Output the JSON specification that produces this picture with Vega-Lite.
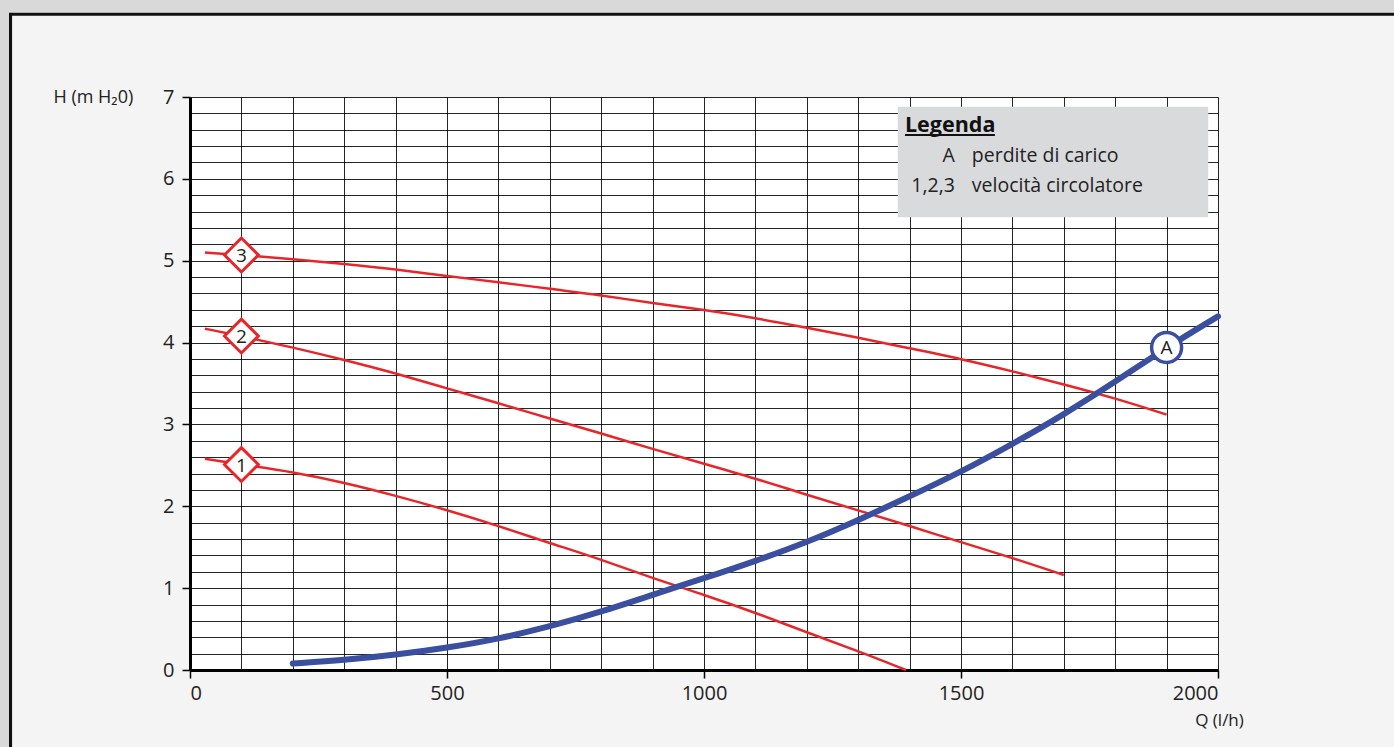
{
  "$schema": "https://vega.github.io/schema/vega-lite/v6.json",
  "width": 1028,
  "height": 573,
  "autosize": {"type": "none"},
  "padding": {"left": 190, "top": 97, "right": 176, "bottom": 77},
  "background": "#f3f4f3",
  "config": {"view": {"fill": "white", "stroke": null}, "font": "Open Sans"},
  "datasets": {
    "pump": [
      {"curve": "3", "Q": 29, "H": 5.10}, {"curve": "3", "Q": 100, "H": 5.07}, {"curve": "3", "Q": 200, "H": 5.02},
      {"curve": "3", "Q": 300, "H": 4.96}, {"curve": "3", "Q": 400, "H": 4.895}, {"curve": "3", "Q": 500, "H": 4.81},
      {"curve": "3", "Q": 600, "H": 4.74}, {"curve": "3", "Q": 700, "H": 4.655}, {"curve": "3", "Q": 800, "H": 4.58},
      {"curve": "3", "Q": 900, "H": 4.48}, {"curve": "3", "Q": 1000, "H": 4.40}, {"curve": "3", "Q": 1100, "H": 4.30},
      {"curve": "3", "Q": 1200, "H": 4.18}, {"curve": "3", "Q": 1300, "H": 4.06}, {"curve": "3", "Q": 1400, "H": 3.93},
      {"curve": "3", "Q": 1500, "H": 3.80}, {"curve": "3", "Q": 1600, "H": 3.65}, {"curve": "3", "Q": 1700, "H": 3.49},
      {"curve": "3", "Q": 1800, "H": 3.32}, {"curve": "3", "Q": 1900, "H": 3.12},
      {"curve": "2", "Q": 29, "H": 4.17}, {"curve": "2", "Q": 100, "H": 4.08}, {"curve": "2", "Q": 200, "H": 3.94},
      {"curve": "2", "Q": 300, "H": 3.79}, {"curve": "2", "Q": 400, "H": 3.625}, {"curve": "2", "Q": 500, "H": 3.44},
      {"curve": "2", "Q": 600, "H": 3.26}, {"curve": "2", "Q": 700, "H": 3.07}, {"curve": "2", "Q": 800, "H": 2.89},
      {"curve": "2", "Q": 900, "H": 2.70}, {"curve": "2", "Q": 1000, "H": 2.52}, {"curve": "2", "Q": 1100, "H": 2.34},
      {"curve": "2", "Q": 1200, "H": 2.14}, {"curve": "2", "Q": 1300, "H": 1.95}, {"curve": "2", "Q": 1400, "H": 1.76},
      {"curve": "2", "Q": 1500, "H": 1.56}, {"curve": "2", "Q": 1600, "H": 1.37}, {"curve": "2", "Q": 1700, "H": 1.16},
      {"curve": "1", "Q": 29, "H": 2.58}, {"curve": "1", "Q": 100, "H": 2.51}, {"curve": "1", "Q": 200, "H": 2.42},
      {"curve": "1", "Q": 300, "H": 2.29}, {"curve": "1", "Q": 400, "H": 2.13}, {"curve": "1", "Q": 500, "H": 1.955},
      {"curve": "1", "Q": 600, "H": 1.76}, {"curve": "1", "Q": 700, "H": 1.55}, {"curve": "1", "Q": 800, "H": 1.35},
      {"curve": "1", "Q": 900, "H": 1.12}, {"curve": "1", "Q": 1000, "H": 0.92}, {"curve": "1", "Q": 1100, "H": 0.70},
      {"curve": "1", "Q": 1200, "H": 0.46}, {"curve": "1", "Q": 1300, "H": 0.23}, {"curve": "1", "Q": 1393, "H": 0.0}
    ],
    "loss": [
      {"Q": 200, "H": 0.08}, {"Q": 300, "H": 0.12}, {"Q": 400, "H": 0.185}, {"Q": 500, "H": 0.27},
      {"Q": 600, "H": 0.38}, {"Q": 700, "H": 0.53}, {"Q": 800, "H": 0.71}, {"Q": 900, "H": 0.92},
      {"Q": 1000, "H": 1.12}, {"Q": 1100, "H": 1.33}, {"Q": 1200, "H": 1.56}, {"Q": 1300, "H": 1.83},
      {"Q": 1400, "H": 2.12}, {"Q": 1500, "H": 2.42}, {"Q": 1600, "H": 2.76}, {"Q": 1700, "H": 3.12},
      {"Q": 1800, "H": 3.52}, {"Q": 1900, "H": 3.94}, {"Q": 2000, "H": 4.32}
    ],
    "speedMarks": [
      {"label": "3", "Q": 100, "H": 5.07},
      {"label": "2", "Q": 100, "H": 4.08},
      {"label": "1", "Q": 100, "H": 2.51}
    ],
    "lossMark": [
      {"label": "A", "Q": 1900, "H": 3.94}
    ],
    "legendRows": [
      {"key": "A", "desc": "perdite di carico", "H": 6.20},
      {"key": "1,2,3", "desc": "velocità circolatore", "H": 5.84}
    ]
  },
  "layer": [
    {
      "data": {"name": "pump"},
      "mark": {"type": "line", "color": "#e8262a", "strokeWidth": 2.5, "interpolate": "basis"},
      "encoding": {
        "detail": {"field": "curve"},
        "x": {
          "field": "Q", "type": "quantitative",
          "scale": {"domain": [0, 2000], "nice": false},
          "axis": {
            "values": [0,100,200,300,400,500,600,700,800,900,1000,1100,1200,1300,1400,1500,1600,1700,1800,1900,2000],
            "tickCount": 40,
            "tickMinStep": 1,
            "labelExpr": "datum.value % 500 === 0 ? format(datum.value, 'd') : ''",
            "labelOverlap": false,
            "labelFontSize": 20, "labelColor": "#222222", "labelPadding": 5,
            "tickSize": 8, "tickWidth": 1.5, "tickColor": "black",
            "tickOpacity": {"condition": {"test": "datum.value % 500 === 0", "value": 1}, "value": 0},
            "grid": true, "gridColor": "black", "gridWidth": 1, "gridOpacity": 0.85,
            "domainColor": "black", "domainWidth": 3,
            "title": "Q (l/h)", "titleFontSize": 17, "titleFontWeight": "normal", "titleColor": "#222222",
            "titleAlign": "center", "titleBaseline": "middle", "titleX": 1029, "titleY": 50
          }
        },
        "y": {
          "field": "H", "type": "quantitative",
          "scale": {"domain": [0, 7], "nice": false},
          "axis": {
            "values": [0,0.2,0.4,0.6,0.8,1,1.2,1.4,1.6,1.8,2,2.2,2.4,2.6,2.8,3,3.2,3.4,3.6,3.8,4,4.2,4.4,4.6,4.8,5,5.2,5.4,5.6,5.8,6,6.2,6.4,6.6,6.8,7],
            "tickCount": 60,
            "tickMinStep": 0.05,
            "labelExpr": "abs(datum.value - round(datum.value)) < 0.01 ? format(datum.value, 'd') : ''",
            "labelOverlap": false,
            "labelFontSize": 20, "labelColor": "#222222", "labelPadding": 8,
            "tickSize": 8, "tickWidth": 1.5, "tickColor": "black",
            "tickOpacity": {"condition": {"test": "abs(datum.value - round(datum.value)) < 0.01", "value": 1}, "value": 0},
            "grid": true, "gridColor": "black", "gridWidth": 1, "gridOpacity": 0.85,
            "domainColor": "black", "domainWidth": 3,
            "title": "H (m H₂0)", "titleAngle": 0, "titleFontSize": 18, "titleFontWeight": "normal", "titleColor": "#222222",
            "titleAlign": "left", "titleBaseline": "middle", "titleX": -137, "titleY": 0
          }
        }
      }
    },
    {
      "data": {"values": [{}]},
      "mark": {"type": "rect", "filled": false, "stroke": "#d9d9d9", "strokeWidth": 27},
      "encoding": {
        "x": {"datum": -371.6, "type": "quantitative"},
        "x2": {"datum": 2393},
        "y": {"datum": 8.197, "type": "quantitative"},
        "y2": {"datum": -1.344}
      }
    },
    {
      "data": {"values": [{}]},
      "mark": {"type": "rect", "filled": false, "stroke": "#111111", "strokeWidth": 3},
      "encoding": {
        "x": {"datum": -349.2, "type": "quantitative"},
        "x2": {"datum": 2373.5},
        "y": {"datum": 8.01, "type": "quantitative"},
        "y2": {"datum": -1.22}
      }
    },
    {
      "data": {"name": "loss"},
      "mark": {"type": "line", "color": "#3a4fa0", "strokeWidth": 6, "interpolate": "basis", "strokeCap": "round"},
      "encoding": {
        "x": {"field": "Q", "type": "quantitative"},
        "y": {"field": "H", "type": "quantitative"}
      }
    },
    {
      "data": {"name": "speedMarks"},
      "mark": {"type": "point", "shape": "diamond", "size": 1150, "filled": true, "fill": "white", "stroke": "#e8262a", "strokeWidth": 3, "opacity": 1},
      "encoding": {
        "x": {"field": "Q", "type": "quantitative"},
        "y": {"field": "H", "type": "quantitative"}
      }
    },
    {
      "data": {"name": "speedMarks"},
      "mark": {"type": "text", "fontSize": 19, "color": "#222222", "align": "center", "baseline": "middle", "dy": 1},
      "encoding": {
        "x": {"field": "Q", "type": "quantitative"},
        "y": {"field": "H", "type": "quantitative"},
        "text": {"field": "label"}
      }
    },
    {
      "data": {"name": "lossMark"},
      "mark": {"type": "point", "shape": "circle", "size": 900, "filled": true, "fill": "white", "stroke": "#3a4fa0", "strokeWidth": 3.5, "opacity": 1},
      "encoding": {
        "x": {"field": "Q", "type": "quantitative"},
        "y": {"field": "H", "type": "quantitative"}
      }
    },
    {
      "data": {"name": "lossMark"},
      "mark": {"type": "text", "fontSize": 19, "color": "#222222", "align": "center", "baseline": "middle", "dy": 1},
      "encoding": {
        "x": {"field": "Q", "type": "quantitative"},
        "y": {"field": "H", "type": "quantitative"},
        "text": {"field": "label"}
      }
    },
    {
      "data": {"values": [{}]},
      "mark": {"type": "rect", "fill": "#d9dadc"},
      "encoding": {
        "x": {"datum": 1377, "type": "quantitative"},
        "x2": {"datum": 1981},
        "y": {"datum": 6.88, "type": "quantitative"},
        "y2": {"datum": 5.53}
      }
    },
    {
      "data": {"values": [{"title": "Legenda"}]},
      "mark": {"type": "text", "fontSize": 21.5, "fontWeight": "bold", "color": "#111111", "align": "left", "baseline": "alphabetic"},
      "encoding": {
        "x": {"datum": 1391, "type": "quantitative"},
        "y": {"datum": 6.57, "type": "quantitative"},
        "text": {"field": "title"}
      }
    },
    {
      "data": {"values": [{}]},
      "mark": {"type": "rule", "color": "#111111", "strokeWidth": 2},
      "encoding": {
        "x": {"datum": 1391, "type": "quantitative"},
        "x2": {"datum": 1566},
        "y": {"datum": 6.535, "type": "quantitative"}
      }
    },
    {
      "data": {"name": "legendRows"},
      "mark": {"type": "text", "fontSize": 19.5, "color": "#222222", "align": "right", "baseline": "alphabetic"},
      "encoding": {
        "x": {"datum": 1488, "type": "quantitative"},
        "y": {"field": "H", "type": "quantitative"},
        "text": {"field": "key"}
      }
    },
    {
      "data": {"name": "legendRows"},
      "mark": {"type": "text", "fontSize": 19.5, "color": "#222222", "align": "left", "baseline": "alphabetic"},
      "encoding": {
        "x": {"datum": 1521, "type": "quantitative"},
        "y": {"field": "H", "type": "quantitative"},
        "text": {"field": "desc"}
      }
    }
  ]
}
